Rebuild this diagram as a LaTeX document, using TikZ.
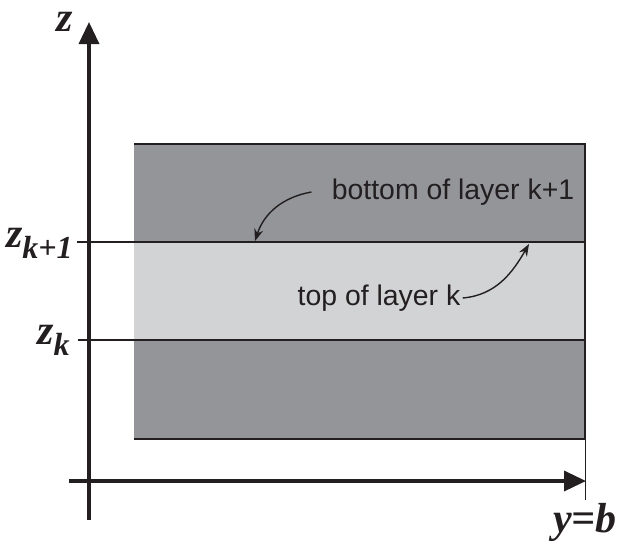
\documentclass[tikz,border=0pt]{standalone}
\usepackage{fontspec}
\setmainfont{Liberation Serif}
\setsansfont{Liberation Sans}
\definecolor{LayerDark}{HTML}{939598}
\definecolor{LayerLight}{HTML}{D1D3D4}
\definecolor{Ink}{HTML}{231F20}
\usetikzlibrary{arrows.meta}
\newcommand{\lowsub}[1]{\raisebox{-0.28em}{\fontsize{16}{17}\selectfont #1}}

\begin{document}
\begin{tikzpicture}[
  x=0.5pt, y=-0.5pt,
  axis/.style={line width=1.75pt, color=Ink, -{Triangle[length=11pt, width=10pt]}},
  edge/.style={line width=1pt, color=Ink},
  level/.style={line width=1pt, color=Ink},
  mark line/.style={line width=0.5pt, color=Ink},
  callout/.style={line width=0.7pt, color=Ink, -{Stealth[length=6pt, width=4.5pt]}},
  coord/.style={font=\fontsize{21}{24}\selectfont\bfseries\itshape, color=Ink, inner sep=0pt},
  note/.style={font=\sffamily\fontsize{14.2}{16}\selectfont, color=Ink, inner sep=0pt},
]
\useasboundingbox (0,0) rectangle (619,547);

% layers
\fill[LayerDark] (134,144) rectangle (585,439);
\fill[LayerLight] (134,242) rectangle (585,340);
\draw[edge] (134,144) -- (585,144) -- (585,439) -- (134,439);

% axes
\coordinate (zbot) at (89,520);
\coordinate (ztop) at (89,22);
\coordinate (yleft) at (69,481);
\coordinate (yright) at (586,481);
\draw[axis] (zbot) -- (ztop);
\draw[axis] (yleft) -- (yright);

% interfaces
\coordinate (k1a) at (77,242);
\coordinate (k1b) at (585,242);
\coordinate (ka) at (78,340);
\coordinate (kb) at (585,340);
\draw[level] (k1a) -- (k1b);
\draw[level] (ka) -- (kb);

% y = b marker
\coordinate (bt) at (585,439);
\coordinate (bb) at (585,500);
\draw[mark line] (bt) -- (bb);

% labels
\node[coord] (zlab) at (65,22) {z};
\node[coord, anchor=base east] (zk1) at (73,247) {z\lowsub{k+1}};
\node[coord, anchor=base east] (zk) at (70,344) {z\lowsub{k}};
\node[coord, anchor=base east] (yb) at (617,532) {y=b};

\node[note] (bottom) at (453,192) {bottom of layer k+1};
\node[note] (top) at (379,298) {top of layer k};

\coordinate (hit1) at (255,241);
\coordinate (hit2) at (529,244);
\draw[callout] ([xshift=-10pt]bottom.west) to[out=190, in=72] (hit1);
\draw[callout] ([xshift=1pt]top.east) to[out=5, in=240] (hit2);

\end{tikzpicture}
\end{document}
